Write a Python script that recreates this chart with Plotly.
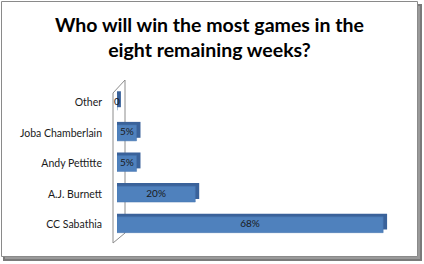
import plotly.graph_objects as go

categories = ["CC Sabathia", "A.J. Burnett", "Andy Pettitte", "Joba Chamberlain", "Other"]
values = [68, 20, 5, 5, 0]
labels = ["68%", "20%", "5%", "5%", "0"]
title_lines = ["Who will win the most games in the", "eight remaining weeks?"]
depth = 1.0

W, H = 424, 264
L, R, T, B = 117, 33, 87, 24
pw, ph = W - L - R, H - T - B

def px(x):
    return (x - L) / pw

def py(y):
    return (H - B - y) / ph

fig = go.Figure()
# 3D depth face (behind)
fig.add_trace(go.Bar(
    y=categories, x=[v + depth for v in values], orientation="h",
    width=0.52, offset=-0.16, marker=dict(color="#3A629A", line=dict(width=0)),
    hoverinfo="skip", showlegend=False))
# front face
fig.add_trace(go.Bar(
    y=categories, x=values, orientation="h",
    width=0.52, offset=-0.26,
    marker=dict(color="#4F81BD", line=dict(color="#4675AE", width=0.5)),
    showlegend=False))
fig.add_trace(go.Scatter(
    y=categories, x=[v / 2 for v in values], mode="text", text=labels,
    textposition="middle center", cliponaxis=False,
    textfont=dict(family="Lato, Open Sans, sans-serif", size=10, color="#1a1a1a"),
    showlegend=False, hoverinfo="skip"))

shapes = [
    # frame shadow
    dict(type="rect", xref="paper", yref="paper",
         x0=px(4), x1=px(421), y0=py(5), y1=py(260),
         line=dict(color="#7a7a7a", width=2), fillcolor="#9a9a9a", layer="below"),
    # frame
    dict(type="rect", xref="paper", yref="paper",
         x0=px(1.5), x1=px(417.5), y0=py(1.5), y1=py(256.5),
         line=dict(color="#8a8a8a", width=1), fillcolor="white", layer="below"),
    # wall
    dict(type="path", xref="paper", yref="paper",
         path=f"M {px(113)},{py(93)} L {px(125)},{py(80)} L {px(125)},{py(233)} L {px(113)},{py(243)} Z",
         line=dict(color="#8c8c8c", width=1), fillcolor="white", layer="below"),
]

fig.update_layout(
    width=W, height=H,
    margin=dict(l=L, r=R, t=T, b=B),
    paper_bgcolor="white", plot_bgcolor="rgba(0,0,0,0)",
    barmode="overlay",
    shapes=shapes,
    annotations=[dict(text="<br>".join(title_lines), xref="paper", yref="paper",
                      x=px(209), y=py(37), xanchor="center", yanchor="middle",
                      showarrow=False, align="center",
                      font=dict(family="Lato, Open Sans, sans-serif", size=19.5,
                                color="black", weight="bold"))],
    xaxis=dict(range=[0, 70], visible=False, showgrid=False, zeroline=False),
    yaxis=dict(categoryorder="array", categoryarray=categories, range=[-0.5, 4.5],
               showgrid=False, zeroline=False, showline=False, ticks="",
               ticklabelstandoff=14,
               tickfont=dict(family="Lato, Open Sans, sans-serif", size=10.5, color="#1a1a1a")),
)

fig.write_html("out.html")
